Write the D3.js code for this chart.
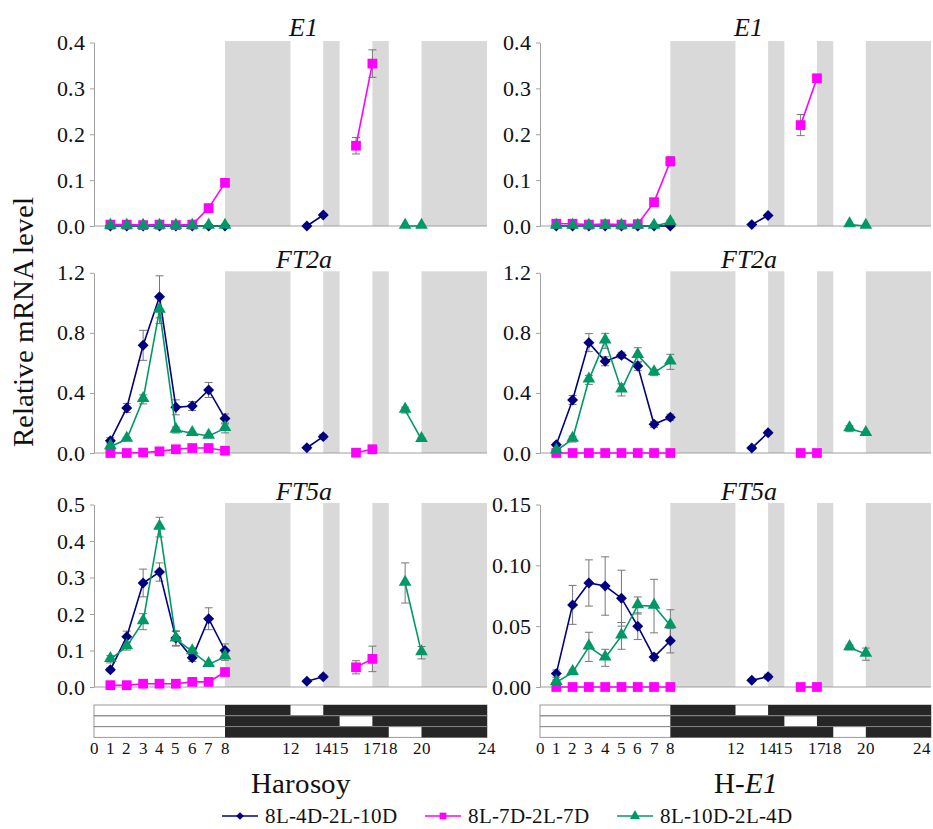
<!DOCTYPE html>
<html>
<head>
<meta charset="utf-8">
<script src="https://cdn.jsdelivr.net/npm/d3@7"></script>
<style>
  @font-face {
    font-family: "ChartSerif";
    font-style: normal;
    font-weight: 400;
    src: local("Liberation Serif"), local("LiberationSerif"), local("Liberation Serif Regular"), local("Times New Roman");
  }
  @font-face {
    font-family: "ChartSerif";
    font-style: italic;
    font-weight: 400;
    src: local("Liberation Serif Italic"), local("LiberationSerif-Italic"), local("Times New Roman Italic");
  }
  body { margin: 0; background: #fff; font-family: "ChartSerif", "Liberation Serif", serif; }
  svg text { font-family: "ChartSerif", "Liberation Serif", serif; }
</style>
</head>
<body>
<div id="chart"></div>
<script>
// sampling hours: first light period, then the second (2 h) light period of each regime
var dayHours = [1, 2, 3, 4, 5, 6, 7, 8];
var secondLightHours = [[13, 14], [16, 17], [19, 20]];
var secondLight = [[12, 14], [15, 17], [18, 20]];
var barTicks = [0, 1, 2, 3, 4, 5, 6, 7, 8, 12, 14, 15, 17, 18, 20, 24];

var seriesNames = ["8L-4D-2L-10D", "8L-7D-2L-7D", "8L-10D-2L-4D"];

var ticksE1 = [0, 0.1, 0.2, 0.3, 0.4];
var ticksFT2a = [0, 0.4, 0.8, 1.2];
var ticksFT5aHar = [0, 0.1, 0.2, 0.3, 0.4, 0.5];
var ticksFT5aHE1 = [0, 0.05, 0.10, 0.15];

var zeros = [0, 0, 0, 0, 0, 0, 0, 0, 0, 0];

// Harosoy E1
var har_E1_4D = [0, 0, 0, 0, 0, 0, 0, 0, 0, 0.024];
var har_E1_4D_se = [0, 0, 0, 0, 0, 0, 0, 0, 0, 0.003];
var har_E1_7D = [0.003, 0.003, 0.002, 0.003, 0.002, 0.003, 0.039, 0.094, 0.175, 0.354];
var har_E1_7D_se = [0, 0, 0, 0, 0, 0, 0.004, 0.008, 0.018, 0.03];
var har_E1_10D = [0, 0, 0, 0, 0, 0, 0, 0, 0, 0];

// H-E1 E1
var he1_E1_4D = [0, 0, 0, 0, 0, 0, 0, 0, 0.003, 0.023];
var he1_E1_7D = [0.005, 0.005, 0.003, 0.004, 0.003, 0.004, 0.052, 0.141, 0.22, 0.322];
var he1_E1_7D_se = [0, 0, 0, 0, 0, 0, 0.004, 0.01, 0.023, 0.005];
var he1_E1_10D = [0, 0, 0, 0, 0, 0, 0, 0.008, 0.003, 0];
var he1_E1_10D_se = [0, 0, 0, 0, 0, 0, 0, 0.005, 0, 0];

// Harosoy FT2a
var har_FT2a_4D = [0.082, 0.30, 0.717, 1.04, 0.304, 0.313, 0.42, 0.23, 0.035, 0.109];
var har_FT2a_4D_se = [0.02, 0.03, 0.1, 0.14, 0.05, 0.03, 0.05, 0.03, 0.01, 0.015];
var har_FT2a_7D = [0, 0, 0.003, 0.011, 0.025, 0.033, 0.033, 0.015, 0.002, 0.025];
var har_FT2a_7D_se = [0.005, 0.005, 0.005, 0.005, 0.01, 0.01, 0.01, 0.005, 0.005, 0.01];
var har_FT2a_10D = [0.042, 0.093, 0.357, 0.952, 0.153, 0.131, 0.113, 0.164, 0.286, 0.091];
var har_FT2a_10D_se = [0.01, 0.01, 0.03, 0.09, 0.02, 0.01, 0.01, 0.03, 0.02, 0.01];

// H-E1 FT2a
var he1_FT2a_4D = [0.055, 0.353, 0.735, 0.611, 0.651, 0.58, 0.191, 0.238, 0.033, 0.135];
var he1_FT2a_4D_se = [0.01, 0.03, 0.06, 0.03, 0.02, 0.03, 0.02, 0.02, 0.01, 0.01];
var he1_FT2a_7D = [0, 0, 0, 0, 0, 0, 0, 0, 0, 0];
var he1_FT2a_10D = [0.015, 0.093, 0.487, 0.747, 0.42, 0.651, 0.535, 0.607, 0.162, 0.131];
var he1_FT2a_10D_se = [0.01, 0.02, 0.03, 0.05, 0.04, 0.05, 0.02, 0.05, 0.02, 0.01];

// Harosoy FT5a
var har_FT5a_4D = [0.047, 0.138, 0.285, 0.315, 0.134, 0.08, 0.187, 0.1, 0.016, 0.028];
var har_FT5a_4D_se = [0.005, 0.015, 0.038, 0.025, 0.02, 0.01, 0.03, 0.018, 0.004, 0.005];
var har_FT5a_7D = [0.005, 0.005, 0.009, 0.009, 0.009, 0.014, 0.014, 0.041, 0.054, 0.077];
var har_FT5a_7D_se = [0.002, 0.002, 0.002, 0.002, 0.002, 0.003, 0.003, 0.005, 0.018, 0.035];
var har_FT5a_10D = [0.076, 0.111, 0.179, 0.438, 0.132, 0.097, 0.062, 0.083, 0.285, 0.094];
var har_FT5a_10D_se = [0.01, 0.01, 0.022, 0.027, 0.02, 0.01, 0.005, 0.01, 0.055, 0.017];

// H-E1 FT5a
var he1_FT5a_4D = [0.011, 0.0675, 0.0855, 0.083, 0.073, 0.05, 0.0246, 0.038, 0.0055, 0.0085];
var he1_FT5a_4D_se = [0.003, 0.016, 0.019, 0.024, 0.023, 0.011, 0.003, 0.01, 0.001, 0.002];
var he1_FT5a_7D = [0, 0, 0, 0, 0, 0, 0, 0, 0, 0];
var he1_FT5a_10D = [0.0038, 0.012, 0.033, 0.024, 0.042, 0.067, 0.0665, 0.0505, 0.0325, 0.027];
var he1_FT5a_10D_se = [0.002, 0.002, 0.012, 0.007, 0.011, 0.007, 0.022, 0.013, 0.002, 0.005];

// styles
var colors = ["#000080", "#ff00ff", "#009966"];
var shapes = ["diamond", "square", "triangle"];
var axisGray = "#a0a0a0";
var shadeGray = "#d9d9d9";
var serif = "ChartSerif, Liberation Serif, serif";

var svg = d3.select("#chart").append("svg")
  .attr("width", 933)
  .attr("height", 829);

// column and row geometry
var columns = [
  { name: "Harosoy", x0: 94, x1: 487 },
  { name: "H-E1", x0: 540, x1: 931 }
];
var rows = [
  { y0: 226, y1: 42.5, titleY: 36 },
  { y0: 453, y1: 272.8, titleY: 268 },
  { y0: 687, y1: 504.5, titleY: 500 }
];

var panels = [
  { col: 0, row: 0, gene: "E1", ticks: ticksE1, fmt: ".1f",
    values: [har_E1_4D, har_E1_7D, har_E1_10D], errs: [har_E1_4D_se, har_E1_7D_se, zeros] },
  { col: 1, row: 0, gene: "E1", ticks: ticksE1, fmt: ".1f",
    values: [he1_E1_4D, he1_E1_7D, he1_E1_10D], errs: [zeros, he1_E1_7D_se, he1_E1_10D_se] },
  { col: 0, row: 1, gene: "FT2a", ticks: ticksFT2a, fmt: ".1f",
    values: [har_FT2a_4D, har_FT2a_7D, har_FT2a_10D], errs: [har_FT2a_4D_se, har_FT2a_7D_se, har_FT2a_10D_se] },
  { col: 1, row: 1, gene: "FT2a", ticks: ticksFT2a, fmt: ".1f",
    values: [he1_FT2a_4D, he1_FT2a_7D, he1_FT2a_10D], errs: [he1_FT2a_4D_se, zeros, he1_FT2a_10D_se] },
  { col: 0, row: 2, gene: "FT5a", ticks: ticksFT5aHar, fmt: ".1f",
    values: [har_FT5a_4D, har_FT5a_7D, har_FT5a_10D], errs: [har_FT5a_4D_se, har_FT5a_7D_se, har_FT5a_10D_se] },
  { col: 1, row: 2, gene: "FT5a", ticks: ticksFT5aHE1, fmt: ".2f",
    values: [he1_FT5a_4D, he1_FT5a_7D, he1_FT5a_10D], errs: [he1_FT5a_4D_se, zeros, he1_FT5a_10D_se] }
];

// all-dark intervals (grey shading) = dark in every regime
var darkShade = [[8, 12], [14, 15], [17, 18], [20, 24]];

function markerPath(shape) {
  if (shape === "square") return d3.symbol().type(d3.symbolSquare).size(95)();
  if (shape === "triangle") return d3.symbol().type(d3.symbolTriangle).size(70)();
  return d3.symbol().type(d3.symbolSquare).size(60)();
}
function markerTransform(shape, x, y) {
  if (shape === "diamond") return "translate(" + x + "," + y + ") rotate(45)";
  if (shape === "triangle") return "translate(" + x + "," + (y - 1) + ")";
  return "translate(" + x + "," + y + ")";
}

panels.forEach(function(p) {
  var col = columns[p.col];
  var row = rows[p.row];
  var x = d3.scaleLinear().domain([0, 24]).range([col.x0, col.x1]);
  var y = d3.scaleLinear().domain([0, d3.max(p.ticks)]).range([row.y0, row.y1]);
  var g = svg.append("g");

  // dark shading
  g.selectAll("rect.shade")
    .data(darkShade)
    .enter()
    .append("rect")
    .attr("x", function(d) { return x(d[0]); })
    .attr("width", function(d) { return x(d[1]) - x(d[0]); })
    .attr("y", y(d3.max(p.ticks)) - 1.5)
    .attr("height", y(0) - y(d3.max(p.ticks)) + 1.5)
    .attr("fill", shadeGray);

  // y axis
  var yAxis = g.append("g")
    .attr("transform", "translate(" + col.x0 + ",0)")
    .call(d3.axisLeft(y).tickValues(p.ticks).tickFormat(d3.format(p.fmt))
      .tickSize(4).tickSizeOuter(0).tickPadding(5));
  yAxis.attr("font-family", serif);
  yAxis.select(".domain").attr("stroke", axisGray);
  yAxis.selectAll(".tick line").attr("stroke", axisGray);
  yAxis.selectAll(".tick text")
    .attr("font-family", serif)
    .attr("font-size", 22)
    .attr("fill", "#111");

  // x baseline
  g.append("line")
    .attr("x1", col.x0).attr("x2", col.x1)
    .attr("y1", y(0)).attr("y2", y(0))
    .attr("stroke", axisGray).attr("stroke-width", 1.2);

  // gene title
  g.append("text")
    .attr("x", x(12.8))
    .attr("y", row.titleY)
    .attr("text-anchor", "middle")
    .attr("font-family", serif)
    .attr("font-style", "italic")
    .attr("font-size", 26)
    .attr("fill", "#111")
    .text(p.gene);

  // points for each series
  var seriesPts = p.values.map(function(vals, s) {
    var hrs = dayHours.concat(secondLightHours[s]);
    return vals.map(function(v, i) {
      return { h: hrs[i], v: v, e: p.errs[s][i], seg: i < 8 ? 0 : 1 };
    });
  });

  // error bars first
  seriesPts.forEach(function(pts) {
    var eb = g.selectAll(null)
      .data(pts.filter(function(d) { return d.e > 0; }))
      .enter()
      .append("g")
      .attr("stroke", "#777")
      .attr("stroke-width", 1);
    eb.append("line")
      .attr("x1", function(d) { return x(d.h); })
      .attr("x2", function(d) { return x(d.h); })
      .attr("y1", function(d) { return y(d.v - d.e); })
      .attr("y2", function(d) { return y(d.v + d.e); });
    [-1, 1].forEach(function(sg) {
      eb.append("line")
        .attr("x1", function(d) { return x(d.h) - 4; })
        .attr("x2", function(d) { return x(d.h) + 4; })
        .attr("y1", function(d) { return y(d.v + sg * d.e); })
        .attr("y2", function(d) { return y(d.v + sg * d.e); });
    });
  });

  var line = d3.line()
    .x(function(d) { return x(d.h); })
    .y(function(d) { return y(d.v); });

  seriesPts.forEach(function(pts, s) {
    [0, 1].forEach(function(seg) {
      g.append("path")
        .datum(pts.filter(function(d) { return d.seg === seg; }))
        .attr("d", line)
        .attr("fill", "none")
        .attr("stroke", colors[s])
        .attr("stroke-width", 1.6);
    });
    g.selectAll(null)
      .data(pts)
      .enter()
      .append("path")
      .attr("d", markerPath(shapes[s]))
      .attr("transform", function(d) { return markerTransform(shapes[s], x(d.h), y(d.v)); })
      .attr("fill", colors[s]);
  });
});

// y axis label
svg.append("text")
  .attr("transform", "translate(33,322) rotate(-90)")
  .attr("text-anchor", "middle")
  .attr("font-family", serif)
  .attr("font-size", 29)
  .attr("fill", "#111")
  .text("Relative mRNA level");

// light / dark regime bars under each column
columns.forEach(function(col) {
  var x = d3.scaleLinear().domain([0, 24]).range([col.x0, col.x1]);
  var barTop = 705;
  var rowH = 10.8;
  var g = svg.append("g");

  secondLight.forEach(function(l, r) {
    var yTop = barTop + r * rowH;
    g.append("rect")
      .attr("x", x(0)).attr("y", yTop)
      .attr("width", x(24) - x(0)).attr("height", rowH)
      .attr("fill", "#fff").attr("stroke", "#999").attr("stroke-width", 1);
    g.append("rect")
      .attr("x", x(8)).attr("y", yTop)
      .attr("width", x(l[0]) - x(8)).attr("height", rowH)
      .attr("fill", "#262626");
    g.append("rect")
      .attr("x", x(l[1])).attr("y", yTop)
      .attr("width", x(24) - x(l[1])).attr("height", rowH)
      .attr("fill", "#262626");
  });
  [1, 2].forEach(function(r) {
    g.append("line")
      .attr("x1", x(0)).attr("x2", x(24))
      .attr("y1", barTop + r * rowH).attr("y2", barTop + r * rowH)
      .attr("stroke", "#888").attr("stroke-width", 0.8);
  });

  g.selectAll("text.bt")
    .data(barTicks)
    .enter()
    .append("text")
    .attr("x", function(d) { return Math.min(x(d), 922); })
    .attr("y", 754)
    .attr("text-anchor", "middle")
    .attr("font-family", serif)
    .attr("font-size", 17)
    .attr("fill", "#111")
    .text(function(d) { return d; });

  var lab = g.append("text")
    .attr("x", (col.x0 + col.x1) / 2 + 10)
    .attr("y", 793)
    .attr("text-anchor", "middle")
    .attr("font-family", serif)
    .attr("font-size", 29)
    .attr("fill", "#111");
  if (col.name === "H-E1") {
    lab.append("tspan").text("H-");
    lab.append("tspan").attr("font-style", "italic").text("E1");
  } else {
    lab.text(col.name);
  }
});

// legend
var legendX = [222, 425, 617];
seriesNames.forEach(function(name, s) {
  var lg = svg.append("g").attr("transform", "translate(" + legendX[s] + ",816)");
  lg.append("line")
    .attr("x1", 0).attr("x2", 36)
    .attr("stroke", colors[s]).attr("stroke-width", 1.6);
  lg.append("path")
    .attr("d", d3.symbol().type(shapes[s] === "triangle" ? d3.symbolTriangle : d3.symbolSquare)
      .size(shapes[s] === "diamond" ? 30 : 45)())
    .attr("transform", shapes[s] === "diamond" ? "translate(18,0) rotate(45)" : "translate(18,0)")
    .attr("fill", colors[s]);
  lg.append("text")
    .attr("x", 43)
    .attr("y", 7)
    .attr("font-family", serif)
    .attr("font-size", 21)
    .attr("fill", "#111")
    .text(name);
});
</script>
</body>
</html>
